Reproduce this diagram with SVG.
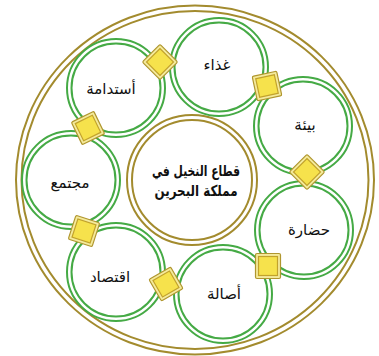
<svg xmlns="http://www.w3.org/2000/svg" width="379" height="356" viewBox="0 0 379 356">
<style>
.gold{fill:none;stroke:#a38b2e;stroke-width:2}
.ring{fill:none;stroke:#45aa45;stroke-width:2}
.lbl{font-family:"DejaVu Sans",sans-serif;font-size:15px;fill:#111;text-anchor:middle}
.ctr{font-family:"DejaVu Sans",sans-serif;font-size:15px;font-weight:bold;fill:#111;text-anchor:middle}
.dOut{fill:#f4ea9c;stroke:#b0962e;stroke-width:1.2}
.dIn{fill:#f6e24c;stroke:#c2a22c;stroke-width:1.2}
</style>
<defs>
<g id="dia">
<rect class="dOut" x="-12.5" y="-12.5" width="25" height="25" rx="1.5"/>
<rect class="dIn" x="-9.5" y="-9.5" width="19" height="19"/>
</g>
</defs>
<rect width="379" height="356" fill="#fff"/>
<g id="outer">
<ellipse class="gold" cx="195" cy="180" rx="179" ry="174.5"/>
<ellipse class="gold" cx="195" cy="180" rx="173.5" ry="169"/>
</g>
<g id="center">
<circle class="gold" cx="192" cy="180" r="65"/>
<circle class="gold" cx="192" cy="180" r="60"/>
<text class="ctr" x="196" y="176" direction="rtl" textLength="88" lengthAdjust="spacingAndGlyphs">قطاع النخيل في</text>
<text class="ctr" x="196" y="196" direction="rtl" textLength="83" lengthAdjust="spacingAndGlyphs">مملكة البحرين</text>
</g>
<g id="n-ghitha">
<circle class="ring" cx="219" cy="67" r="49"/><circle class="ring" cx="219" cy="67" r="44.5"/>
<text class="lbl" x="217" y="70">غذاء</text>
</g>
<g id="n-bia">
<circle class="ring" cx="303" cy="126" r="49"/><circle class="ring" cx="303" cy="126" r="44.5"/>
<text class="lbl" x="305" y="130">بيئة</text>
</g>
<g id="n-hadara">
<circle class="ring" cx="304" cy="230" r="49"/><circle class="ring" cx="304" cy="230" r="44.5"/>
<text class="lbl" x="309" y="235">حضارة</text>
</g>
<g id="n-asala">
<circle class="ring" cx="223" cy="294" r="49"/><circle class="ring" cx="223" cy="294" r="44.5"/>
<text class="lbl" x="224" y="299">أصالة</text>
</g>
<g id="n-iqtisad">
<circle class="ring" cx="116" cy="272" r="49"/><circle class="ring" cx="116" cy="272" r="44.5"/>
<text class="lbl" x="110" y="282">اقتصاد</text>
</g>
<g id="n-mujtama">
<circle class="ring" cx="71" cy="180" r="49"/><circle class="ring" cx="71" cy="180" r="44.5"/>
<text class="lbl" x="70" y="188">مجتمع</text>
</g>
<g id="n-istidama">
<circle class="ring" cx="116" cy="88" r="49"/><circle class="ring" cx="116" cy="88" r="44.5"/>
<text class="lbl" x="111" y="94">أستدامة</text>
</g>
<g id="connectors">
<use href="#dia" transform="translate(160,62) rotate(45)"/>
<use href="#dia" transform="translate(267,86) rotate(-12)"/>
<use href="#dia" transform="translate(307,172) rotate(45)"/>
<use href="#dia" transform="translate(268,266)"/>
<use href="#dia" transform="translate(166,284) rotate(-30)"/>
<use href="#dia" transform="translate(84,231) rotate(18)"/>
<use href="#dia" transform="translate(88,128) rotate(-26)"/>
</g>
</svg>
